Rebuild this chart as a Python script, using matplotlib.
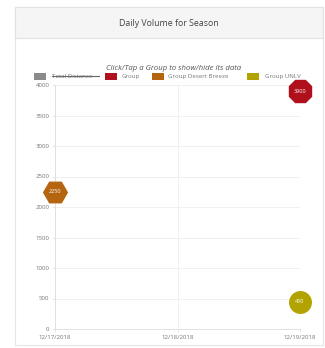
import matplotlib
matplotlib.use("Agg")
import matplotlib.pyplot as plt
from matplotlib.patches import Rectangle
import matplotlib.lines as mlines

plt.rcParams['font.family'] = ['Open Sans', 'DejaVu Sans']

dates = ["12/17/2018", "12/18/2018", "12/19/2018"]
series_names = ["Total Distance", "Group", "Group Desert Breeze", "Group UNLV"]
series_colors = ["#8a8a8a", "#b0101c", "#b5650f", "#b3a300"]
group_x = [2]
group_y = [3900]
desert_x = [0]
desert_y = [2250]
unlv_x = [2]
unlv_y = [450]
yticks = [0, 500, 1000, 1500, 2000, 2500, 3000, 3500, 4000]

W, H = 325, 348
fig = plt.figure(figsize=(W / 100, H / 100), dpi=100)
fig.patch.set_facecolor("white")

def fx(px):
    return px / W

def fy(py):
    return 1 - py / H

# card
fig.patches.append(Rectangle((fx(15), fy(345)), fx(323) - fx(15), fy(7) - fy(345),
                             transform=fig.transFigure, facecolor="white",
                             edgecolor="#e6e6e6", lw=0.8, zorder=-10))
fig.patches.append(Rectangle((fx(15), fy(38)), fx(323) - fx(15), fy(7) - fy(38),
                             transform=fig.transFigure, facecolor="#f5f5f5",
                             edgecolor="#e2e2e2", lw=0.8, zorder=-9))
fig.text(fx(169), fy(23.5), "Daily Volume for Season", ha="center", va="center",
         fontsize=6.3, color="#444444")
fig.text(fx(174), fy(68), "Click/Tap a Group to show/hide its data", ha="center",
         va="center", fontsize=5.6, color="#555555", style="italic")

# legend
LY = 76.5
leg_items = [(34, 52), (105, 122), (152, 168), (247, 265)]
for (bx, tx), name, col in zip(leg_items, series_names, series_colors):
    fig.patches.append(Rectangle((fx(bx), fy(LY + 3)), fx(12), 6 / H,
                                 transform=fig.transFigure, facecolor=col,
                                 edgecolor="none"))
    fig.text(fx(tx), fy(LY), name, ha="left", va="center", fontsize=4.4,
             color="#777777")
    if name == "Total Distance":
        fig.lines.append(mlines.Line2D([fx(tx), fx(tx + 47)], [fy(LY - 0.3), fy(LY - 0.3)],
                                       transform=fig.transFigure, color="#666666",
                                       lw=0.8))

ax = fig.add_axes([fx(55), fy(329), fx(300) - fx(55), fy(85) - fy(329)])
ax.set_zorder(2)
ax.patch.set_alpha(0)
ax.set_xlim(0, 2)
ax.set_ylim(0, 4000)
ax.set_xticks(range(len(dates)))
ax.set_xticklabels(dates)
ax.set_yticks(yticks)
ax.set_yticklabels([str(v) for v in yticks])
ax.tick_params(axis="both", labelsize=4.4, colors="#777777", length=2, width=0.5,
               color="#dddddd", pad=2)
ax.grid(True, color="#eeeeee", lw=0.6)
ax.set_axisbelow(True)
for s in ["top", "right"]:
    ax.spines[s].set_visible(False)
ax.spines["left"].set_color("#dddddd")
ax.spines["bottom"].set_color("#dddddd")
ax.spines["left"].set_linewidth(0.6)
ax.spines["bottom"].set_linewidth(0.6)

for xs, ys, col, mk, ms in [(group_x, group_y, series_colors[1], "8", 17),
                            (desert_x, desert_y, series_colors[2], "H", 17),
                            (unlv_x, unlv_y, series_colors[3], "o", 15.5)]:
    ax.plot(xs, ys, linestyle="none", marker=mk, markersize=ms, color=col,
            markeredgecolor=col, clip_on=False, zorder=5)
    for x, y in zip(xs, ys):
        ax.text(x, y, str(y), ha="center", va="center", fontsize=4.0,
                color="white", zorder=6, clip_on=False)

fig.savefig("out.png", dpi=100)
